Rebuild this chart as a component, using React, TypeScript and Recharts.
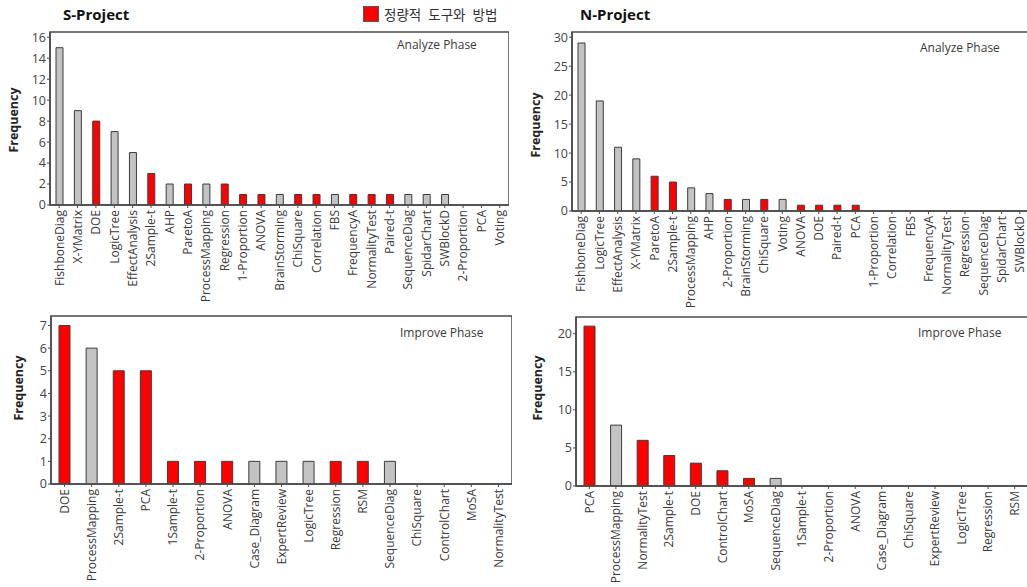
import { BarChart, Bar, XAxis, YAxis, Cell, ReferenceArea } from "recharts";

const sAnalyzeTools = [
  "FishboneDiag", "X-YMatrix", "DOE", "LogicTree", "EffectAnalysis", "2Sample-t",
  "AHP", "ParetoA", "ProcessMapping", "Regression", "1-Proportion", "ANOVA",
  "BrainStorming", "ChiSquare", "Correlation", "FBS", "FrequencyA", "NormalityTest",
  "Paired-t", "SequenceDiag", "SpidarChart", "SWBlockD", "2-Proportion", "PCA", "Voting",
];
const sAnalyzeFreq = [15, 9, 8, 7, 5, 3, 2, 2, 2, 2, 1, 1, 1, 1, 1, 1, 1, 1, 1, 1, 1, 1, 0, 0, 0];
const sAnalyzeQuant = [0, 0, 1, 0, 0, 1, 0, 1, 0, 1, 1, 1, 0, 1, 1, 0, 1, 1, 1, 0, 0, 0, 0, 1, 0];

const nAnalyzeTools = [
  "FishboneDiag", "LogicTree", "EffectAnalysis", "X-YMatrix", "ParetoA", "2Sample-t",
  "ProcessMapping", "AHP", "2-Proportion", "BrainStorming", "ChiSquare", "Voting",
  "ANOVA", "DOE", "Paired-t", "PCA", "1-Proportion", "Correlation", "FBS",
  "FrequencyA", "NormalityTest", "Regression", "SequenceDiag", "SpidarChart", "SWBlockD",
];
const nAnalyzeFreq = [29, 19, 11, 9, 6, 5, 4, 3, 2, 2, 2, 2, 1, 1, 1, 1, 0, 0, 0, 0, 0, 0, 0, 0, 0];
const nAnalyzeQuant = [0, 0, 0, 0, 1, 1, 0, 0, 1, 0, 1, 0, 1, 1, 1, 1, 1, 1, 0, 1, 1, 1, 0, 0, 0];

const sImproveTools = [
  "DOE", "ProcessMapping", "2Sample-t", "PCA", "1Sample-t", "2-Proportion", "ANOVA",
  "Case_Diagram", "ExpertReview", "LogicTree", "Regression", "RSM", "SequenceDiag",
  "ChiSquare", "ControlChart", "MoSA", "NormalityTest",
];
const sImproveFreq = [7, 6, 5, 5, 1, 1, 1, 1, 1, 1, 1, 1, 1, 0, 0, 0, 0];
const sImproveQuant = [1, 0, 1, 1, 1, 1, 1, 0, 0, 0, 1, 1, 0, 1, 1, 1, 1];

const nImproveTools = [
  "PCA", "ProcessMapping", "NormalityTest", "2Sample-t", "DOE", "ControlChart", "MoSA",
  "SequenceDiag", "1Sample-t", "2-Proportion", "ANOVA", "Case_Diagram", "ChiSquare",
  "ExpertReview", "LogicTree", "Regression", "RSM",
];
const nImproveFreq = [21, 8, 6, 4, 3, 2, 1, 1, 0, 0, 0, 0, 0, 0, 0, 0, 0];
const nImproveQuant = [1, 0, 1, 1, 1, 1, 1, 0, 1, 1, 1, 0, 1, 0, 0, 1, 1];

const sAnalyzeTicks = [0, 2, 4, 6, 8, 10, 12, 14, 16];
const nAnalyzeTicks = [0, 5, 10, 15, 20, 25, 30];
const sImproveTicks = [0, 1, 2, 3, 4, 5, 6, 7];
const nImproveTicks = [0, 5, 10, 15, 20];

const FONT = "'Open Sans', 'Noto Sans CJK KR', sans-serif";
const RED = "#ff0000";
const GRAY = "#c3c3c3";
const LINE = "#4a4a4a";

function RotTick(props: any) {
  const { x, y, payload } = props;
  return (
    <g transform={`translate(${x},${y - 1}) rotate(-90)`}>
      <text x={0} y={0} dy="0.36em" textAnchor="end" fontSize={12} fill="#3a3a3a" fontFamily={FONT}>
        {payload.value}
      </text>
    </g>
  );
}

type PanelProps = {
  left: number;
  top: number;
  width: number;
  height: number;
  marginTop: number;
  yWidth: number;
  xHeight: number;
  tools: string[];
  freq: number[];
  quant: number[];
  yMax: number;
  ticks: number[];
  barSize: number;
};

function Panel(p: PanelProps) {
  const rows = p.tools.map((tool, i) => ({ tool, freq: p.freq[i], quant: p.quant[i] }));
  return (
    <div style={{ position: "absolute", left: p.left, top: p.top }}>
      <BarChart
        width={p.width}
        height={p.height}
        data={rows}
        margin={{ top: p.marginTop, right: 0, bottom: 0, left: 0 }}
        barSize={p.barSize}
      >
        <XAxis
          dataKey="tool"
          interval={0}
          height={p.xHeight}
          tick={<RotTick />}
          tickSize={3}
          tickMargin={3}
          axisLine={{ stroke: LINE, strokeWidth: 1.5 }}
          tickLine={{ stroke: LINE }}
        />
        <YAxis
          width={p.yWidth}
          domain={[0, p.yMax]}
          ticks={p.ticks}
          interval={0}
          tickSize={3}
          tickMargin={1}
          allowDataOverflow
          tick={{ fontSize: 12.5, fill: "#444", fontFamily: FONT }}
          axisLine={{ stroke: LINE, strokeWidth: 1.5 }}
          tickLine={{ stroke: LINE }}
        />
        <ReferenceArea
          y1={0}
          y2={p.yMax}
          fill="none"
          fillOpacity={0}
          stroke={LINE}
          strokeWidth={1.5}
          ifOverflow="visible"
        />
        <Bar dataKey="freq" isAnimationActive={false} stroke="#3c3c3c" strokeWidth={1}>
          {rows.map((r, i) => (
            <Cell key={i} fill={r.quant && r.freq > 0 ? RED : GRAY} />
          ))}
        </Bar>
      </BarChart>
    </div>
  );
}

function FreqLabel({ x, y }: { x: number; y: number }) {
  return (
    <div
      style={{
        position: "absolute",
        left: x,
        top: y,
        transform: "translate(-50%, -50%) rotate(-90deg)",
        fontFamily: FONT,
        fontWeight: 700,
        fontSize: 12.5,
        color: "#222",
        whiteSpace: "nowrap",
      }}
    >
      Frequency
    </div>
  );
}

function Note({ x, y, text }: { x: number; y: number; text: string }) {
  return (
    <div
      style={{
        position: "absolute",
        left: x,
        top: y,
        transform: "translateY(-50%)",
        fontFamily: FONT,
        fontSize: 12,
        color: "#3a3a3a",
        whiteSpace: "nowrap",
      }}
    >
      {text}
    </div>
  );
}

export default function App() {
  return (
    <div
      style={{
        position: "absolute",
        left: 0,
        top: 0,
        width: 1027,
        height: 587,
        overflow: "hidden",
        background: "#fff",
      }}
    >
      <Panel left={0} top={0} width={509} height={312} marginTop={32} yWidth={50} xHeight={107}
        tools={sAnalyzeTools} freq={sAnalyzeFreq} quant={sAnalyzeQuant} yMax={16.5} ticks={sAnalyzeTicks} barSize={7} />
      <Panel left={510} top={0} width={519} height={312} marginTop={32} yWidth={62} xHeight={101}
        tools={nAnalyzeTools} freq={nAnalyzeFreq} quant={nAnalyzeQuant} yMax={30.9} ticks={nAnalyzeTicks} barSize={7} />
      <Panel left={0} top={300} width={512} height={287} marginTop={16} yWidth={51} xHeight={103}
        tools={sImproveTools} freq={sImproveFreq} quant={sImproveQuant} yMax={7.42} ticks={sImproveTicks} barSize={11} />
      <Panel left={510} top={300} width={518} height={287} marginTop={17} yWidth={66} xHeight={101}
        tools={nImproveTools} freq={nImproveFreq} quant={nImproveQuant} yMax={22.2} ticks={nImproveTicks} barSize={11} />

      <div style={{ position: "absolute", left: 63, top: 4, fontFamily: FONT, fontWeight: 700, fontSize: 15, color: "#111" }}>
        S-Project
      </div>
      <div style={{ position: "absolute", left: 580, top: 4, fontFamily: FONT, fontWeight: 700, fontSize: 15, color: "#111" }}>
        N-Project
      </div>

      <div style={{ position: "absolute", left: 363, top: 4, display: "flex", alignItems: "center" }}>
        <div style={{ width: 14, height: 14, background: RED, border: "1px solid #555" }} />
        <span style={{ marginLeft: 5, fontFamily: "'Noto Sans CJK KR', sans-serif", fontSize: 13.5, color: "#333", wordSpacing: 4 }}>
          정량적 도구와 방법
        </span>
      </div>

      <FreqLabel x={13} y={120} />
      <FreqLabel x={535} y={125} />
      <FreqLabel x={18} y={388} />
      <FreqLabel x={537} y={388} />

      <Note x={397} y={44} text="Analyze Phase" />
      <Note x={920} y={47} text="Analyze Phase" />
      <Note x={400} y={332} text="Improve Phase" />
      <Note x={918} y={332} text="Improve Phase" />
    </div>
  );
}
